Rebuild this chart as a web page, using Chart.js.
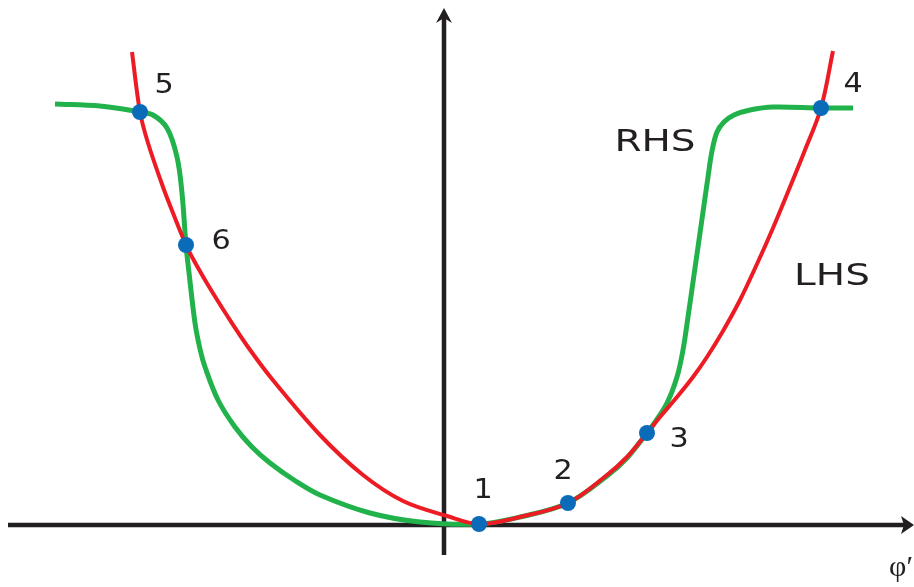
<!DOCTYPE html>
<html>
<head>
<meta charset="utf-8">
<title>LHS / RHS</title>
<script src="https://cdn.jsdelivr.net/npm/chart.js@4"></script>
<style>
	body { margin: 0; background: #ffffff; }
	#wrap { width: 914px; height: 587px; position: relative; }
</style>
</head>
<body>
<div id="wrap"><canvas id="myChart"></canvas></div>
<script>
// Data block (phi' along x, value along y)
const lhsX = [-3.12, -3.04, -2.96, -2.81, -2.71, -2.58, -2.52, -2.36, -2.16, -1.96, -1.72, -1.24, -0.81, -0.41, 0.03, 0.35, 0.76, 1.24, 1.63, 1.83, 2.03, 2.16, 2.33, 2.49, 2.63, 2.79, 2.96, 3.13, 3.29, 3.46, 3.61, 3.77, 3.89];
const lhsY = [4.73, 4.13, 3.82, 3.38, 3.12, 2.8, 2.68, 2.4, 2.08, 1.78, 1.46, 0.9, 0.5, 0.24, 0.09, 0.01, 0.08, 0.22, 0.5, 0.68, 0.92, 1.08, 1.28, 1.48, 1.68, 1.94, 2.25, 2.61, 2.97, 3.38, 3.75, 4.17, 4.74];

const rhsX = [-3.89, -3.44, -3.04, -2.91, -2.77, -2.67, -2.62, -2.58, -2.545, -2.49, -2.44, -2.39, -2.26, -2.09, -1.92, -1.74, -1.5, -1.24, -0.74, -0.24, 0.35, 0.76, 1.24, 1.63, 1.83, 2.03, 2.09, 2.23, 2.33, 2.39, 2.44, 2.49, 2.54, 2.59, 2.64, 2.68, 2.73, 2.8, 2.9, 3.06, 3.29, 3.77, 4.09];
const rhsY = [4.21, 4.19, 4.13, 4.1, 3.97, 3.68, 3.32, 2.8, 2.48, 2.02, 1.76, 1.58, 1.25, 0.98, 0.78, 0.62, 0.45, 0.3, 0.12, 0.03, 0.01, 0.08, 0.22, 0.49, 0.67, 0.92, 1.0, 1.22, 1.48, 1.75, 2.08, 2.43, 2.78, 3.13, 3.48, 3.74, 3.93, 4.03, 4.1, 4.15, 4.18, 4.17, 4.17];

const crossX = [0.35, 1.24, 2.03, 3.77, -3.04, -2.58];
const crossY = [0.01, 0.22, 0.92, 4.17, 4.13, 2.8];
const crossNames = ["1", "2", "3", "4", "5", "6"];

const seriesNames = ["LHS", "RHS"];
const axisName = "\u03c6\u2032";

function toPoints(xs, ys) {
	return xs.map(function (x, i) {
		return { x: x, y: ys[i] };
	});
}

// arrows + text
const sketchPlugin = {
	id: "sketch",
	beforeDatasetsDraw: function (chart) {
		const ctx = chart.ctx;
		const x0 = chart.scales.x.getPixelForValue(0);
		const y0 = chart.scales.y.getPixelForValue(0);
		ctx.save();
		ctx.strokeStyle = "#231f20";
		ctx.fillStyle = "#231f20";
		ctx.lineWidth = 4.5;
		// horizontal
		ctx.beginPath();
		ctx.moveTo(8, y0);
		ctx.lineTo(905, y0);
		ctx.stroke();
		ctx.beginPath();
		ctx.moveTo(914, y0);
		ctx.lineTo(901, y0 - 9);
		ctx.lineTo(904, y0);
		ctx.lineTo(901, y0 + 9);
		ctx.closePath();
		ctx.fill();
		// vertical
		ctx.beginPath();
		ctx.moveTo(x0, 555);
		ctx.lineTo(x0, 18);
		ctx.stroke();
		ctx.beginPath();
		ctx.moveTo(x0, 8);
		ctx.lineTo(x0 - 8, 23);
		ctx.lineTo(x0, 18);
		ctx.lineTo(x0 + 8, 23);
		ctx.closePath();
		ctx.fill();
		ctx.restore();
	},
	afterDatasetsDraw: function (chart) {
		const ctx = chart.ctx;
		const xs = chart.scales.x;
		const ys = chart.scales.y;
		const offsets = [[4, -33], [-5, -31], [32, 7], [32, -23], [24, -26], [35, -3]];
		ctx.save();
		ctx.fillStyle = "#231f20";
		ctx.textAlign = "center";
		ctx.textBaseline = "middle";
		ctx.font = "27px 'DejaVu Sans'";
		crossNames.forEach(function (name, i) {
			const px = xs.getPixelForValue(crossX[i]) + offsets[i][0];
			const py = ys.getPixelForValue(crossY[i]) + offsets[i][1];
			ctx.save();
			ctx.translate(px, py);
			ctx.scale(1.12, 1);
			ctx.fillText(name, 0, 0);
			ctx.restore();
		});
		// series names
		ctx.font = "30px 'DejaVu Sans'";
		const namePos = [[832, 277], [655, 143]];
		seriesNames.forEach(function (name, i) {
			ctx.save();
			ctx.translate(namePos[i][0], namePos[i][1]);
			ctx.scale(1.3, 1);
			ctx.fillText(name, 0, 0);
			ctx.restore();
		});
		ctx.font = "30px 'Liberation Serif'";
		ctx.textAlign = "right";
		ctx.fillText(axisName, 913, 568);
		ctx.restore();
	},
};

function mainChart() {
	const data = {
		datasets: [
			{
				label: "points",
				data: toPoints(crossX, crossY),
				showLine: false,
				pointRadius: 8,
				pointBackgroundColor: "#0a6cb9",
				pointBorderWidth: 0,
			},
			{
				label: seriesNames[0],
				data: toPoints(lhsX, lhsY),
				showLine: true,
				borderColor: "#ed1c24",
				borderWidth: 4,
				tension: 0.35,
				borderJoinStyle: "round",
				pointRadius: 0,
			},
			{
				label: seriesNames[1],
				data: toPoints(rhsX, rhsY),
				showLine: true,
				borderColor: "#22b24c",
				borderWidth: 5,
				tension: 0.35,
				borderJoinStyle: "round",
				pointRadius: 0,
			},
		],
	};

	const options = {
		responsive: true,
		maintainAspectRatio: false,
		animation: false,
		layout: { padding: 0, autoPadding: false },
		plugins: {
			legend: { display: false },
			tooltip: { enabled: false },
		},
		scales: {
			x: { type: "linear", display: false, min: -4.44, max: 4.7 },
			y: { type: "linear", display: false, min: -0.62, max: 5.25 },
		},
	};

	// Render Block
	const myChart = new Chart(document.getElementById("myChart"), {
		type: "scatter",
		data: data,
		options: options,
		plugins: [sketchPlugin],
	});
}

mainChart();
</script>
</body>
</html>
